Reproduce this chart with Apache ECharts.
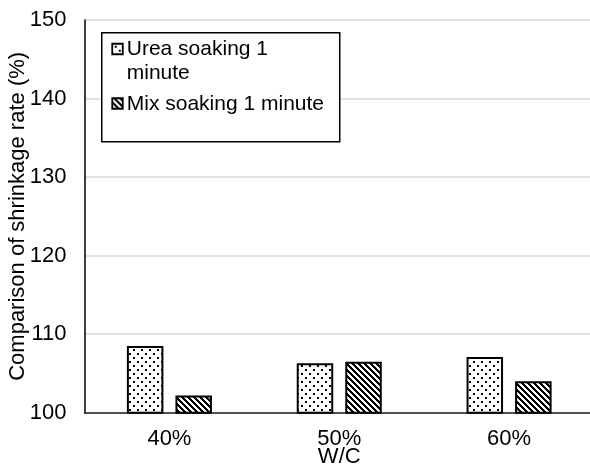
<!DOCTYPE html>
<html>
<head>
<meta charset="utf-8">
<script src="https://cdn.jsdelivr.net/npm/echarts@6/dist/echarts.min.js"></script>
<style>
  html, body { margin: 0; padding: 0; background: #fff; }
  #chart { width: 590px; height: 466px; }
</style>
</head>
<body>
<div id="chart"></div>
<script>
// W/C ratios and shrinkage-rate comparison (%) per soaking treatment
const categories = ['40%', '50%', '60%'];
const seriesNames = ['Urea soaking 1 minute', 'Mix soaking 1 minute'];
const ureaValues = [108.5, 106.3, 107.1];
const mixValues = [102.2, 106.5, 104.0];
const yMin = 100, yMax = 150, yStep = 10;

const FONT = '"Liberation Sans", Arial, sans-serif';

// Staggered dot fill
function dotPattern() {
  const c = document.createElement('canvas');
  c.width = 8; c.height = 8;
  const g = c.getContext('2d');
  g.fillStyle = '#fff'; g.fillRect(0, 0, 8, 8);
  g.fillStyle = '#000';
  g.fillRect(1, 1, 2, 2);
  g.fillRect(5, 5, 2, 2);
  return c;
}
// Back-slash diagonal stripe fill
function stripePattern() {
  const n = 6;
  const c = document.createElement('canvas');
  c.width = n; c.height = n;
  const g = c.getContext('2d');
  g.fillStyle = '#fff'; g.fillRect(0, 0, n, n);
  g.fillStyle = '#000';
  for (let y = 0; y < n; y++) {
    for (let x = 0; x < n; x++) {
      if ((((x - y) % n) + n) % n < 3) g.fillRect(x, y, 1, 1);
    }
  }
  return c;
}
const dotFill = { image: dotPattern(), repeat: 'repeat' };
const stripeFill = { image: stripePattern(), repeat: 'repeat' };

const chart = echarts.init(document.getElementById('chart'), null, { renderer: 'canvas' });

const LEGEND_Z = 100;
const option = {
  animation: false,
  backgroundColor: '#fff',
  textStyle: { fontFamily: FONT },
  grid: { left: 84.5, top: 20, right: -4, bottom: 53.3, containLabel: false, outerBoundsMode: 'none' },
  xAxis: {
    type: 'category',
    data: categories,
    name: 'W/C',
    nameLocation: 'middle',
    nameGap: 33,
    nameMoveOverlap: false,
    nameTextStyle: { fontFamily: FONT, fontSize: 22, color: '#000' },
    axisLine: { show: true, lineStyle: { color: '#222', width: 1.5 } },
    axisTick: { show: false },
    axisLabel: { margin: 15, fontFamily: FONT, fontSize: 22, color: '#000' },
    splitLine: { show: false }
  },
  yAxis: {
    type: 'value',
    min: yMin, max: yMax, interval: yStep,
    name: 'Comparison of shrinkage rate (%)',
    nameLocation: 'middle',
    nameGap: 56,
    nameRotate: 90,
    nameMoveOverlap: false,
    nameTextStyle: { fontFamily: FONT, fontSize: 22, color: '#000' },
    axisLine: { show: true, lineStyle: { color: '#000', width: 1.5 } },
    axisTick: { show: false },
    axisLabel: { margin: 18, fontFamily: FONT, fontSize: 22, color: '#000' },
    splitLine: { show: true, lineStyle: { color: '#d9d9d9', width: 1.5 } }
  },
  series: [
    {
      name: seriesNames[0],
      type: 'bar',
      data: ureaValues,
      barWidth: 36.5,
      barGap: '33%',
      itemStyle: { color: dotFill, borderColor: '#000', borderWidth: 2 }
    },
    {
      name: seriesNames[1],
      type: 'bar',
      data: mixValues,
      barWidth: 36.5,
      itemStyle: { color: stripeFill, borderColor: '#000', borderWidth: 2 }
    }
  ],
  graphic: [
    {
      type: 'group',
      left: 101, top: 32, z: LEGEND_Z,
      children: [
        { type: 'rect', z: LEGEND_Z, shape: { x: 0, y: 0, width: 238, height: 109 },
          style: { fill: '#fff', stroke: '#000', lineWidth: 1.5 } },
        { type: 'rect', z: LEGEND_Z + 1, shape: { x: 10.5, y: 11, width: 10.5, height: 10.5 },
          style: { fill: dotFill, stroke: '#000', lineWidth: 1.8 } },
        { type: 'text', z: LEGEND_Z + 1, x: 25, y: 16.5,
          style: { text: 'Urea soaking 1', font: '21px ' + FONT, fill: '#000', verticalAlign: 'middle' } },
        { type: 'text', z: LEGEND_Z + 1, x: 25, y: 40,
          style: { text: 'minute', font: '21px ' + FONT, fill: '#000', verticalAlign: 'middle' } },
        { type: 'rect', z: LEGEND_Z + 1, shape: { x: 10.5, y: 65.5, width: 10.5, height: 10.5 },
          style: { fill: stripeFill, stroke: '#000', lineWidth: 1.8 } },
        { type: 'text', z: LEGEND_Z + 1, x: 25, y: 71,
          style: { text: seriesNames[1], font: '21px ' + FONT, fill: '#000', verticalAlign: 'middle' } }
      ]
    }
  ]
};
chart.setOption(option);
</script>
</body>
</html>
